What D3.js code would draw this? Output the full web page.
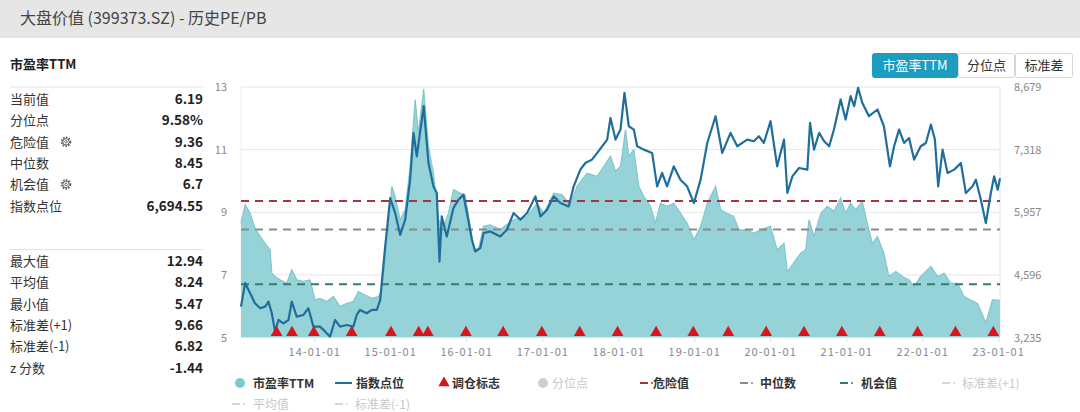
<!DOCTYPE html>
<html><head><meta charset="utf-8">
<script src="https://cdn.jsdelivr.net/npm/d3@7"></script>
<style>
body{margin:0;background:#fff;font-family:"Noto Sans CJK SC","Noto Sans",sans-serif;}
svg text{font-family:"Noto Sans CJK SC","Noto Sans",sans-serif;}
</style></head><body>
<svg id="c" width="1080" height="412"></svg>
<script>
// ---------- DATA ----------
const titleText = "大盘价值 (399373.SZ) - 历史PE/PB";
const peDates = ["2013-01-14","2013-02-03","2013-02-27","2013-03-22","2013-04-16","2013-05-10","2013-06-03","2013-06-11","2013-06-27","2013-07-21","2013-08-22","2013-09-15","2013-10-09","2013-11-10","2013-12-12","2014-01-05","2014-01-29","2014-03-02","2014-04-03","2014-05-05","2014-06-07","2014-07-08","2014-08-01","2014-09-02","2014-10-05","2014-11-06","2014-11-22","2014-12-16","2015-01-09","2015-01-25","2015-02-18","2015-03-14","2015-04-07","2015-05-01","2015-05-17","2015-06-11","2015-07-04","2015-07-28","2015-08-21","2015-09-14","2015-10-08","2015-11-01","2015-12-03","2015-12-27","2016-01-21","2016-02-06","2016-03-01","2016-03-25","2016-04-26","2016-06-13","2016-08-16","2016-10-20","2016-12-07","2017-01-08","2017-02-25","2017-04-06","2017-05-16","2017-06-17","2017-08-04","2017-09-22","2017-10-24","2017-11-25","2017-12-19","2018-01-12","2018-02-05","2018-02-21","2018-03-17","2018-04-10","2018-05-04","2018-06-05","2018-06-29","2018-07-23","2018-08-24","2018-09-25","2018-10-27","2018-11-28","2018-12-31","2019-02-01","2019-03-05","2019-04-14","2019-05-08","2019-06-09","2019-07-10","2019-08-04","2019-09-13","2019-10-15","2019-11-16","2020-01-03","2020-02-04","2020-03-08","2020-03-24","2020-04-25","2020-05-27","2020-06-20","2020-07-06","2020-07-30","2020-09-01","2020-10-02","2020-11-03","2020-12-05","2020-12-29","2021-01-22","2021-02-15","2021-03-19","2021-04-12","2021-05-06","2021-05-31","2021-07-01","2021-07-25","2021-08-27","2021-09-28","2021-10-30","2021-11-23","2021-12-25","2022-02-12","2022-03-16","2022-04-17","2022-05-18","2022-06-19","2022-07-21","2022-08-22","2022-09-24","2022-11-03","2022-12-05","2023-01-10"];
const peValues = [8.65,9.24,8.97,8.49,8.23,8.01,7.80,7.05,6.95,6.84,6.73,7.16,6.84,6.79,6.84,6.20,6.25,6.15,6.31,5.99,6.09,6.15,6.47,6.36,6.25,6.31,6.52,8.01,9.83,9.50,8.76,9.08,10.47,12.60,11.53,12.94,11.10,10.25,8.76,8.55,8.97,9.72,9.61,9.56,8.55,7.80,7.85,8.55,8.60,8.45,8.76,8.87,9.29,8.97,9.61,9.56,9.24,9.83,10.25,10.15,10.47,10.79,10.31,10.47,11.64,10.79,11.00,9.83,9.51,9.19,8.65,9.29,9.19,9.29,8.97,8.65,8.12,8.55,9.29,9.83,9.08,8.97,8.87,8.44,8.44,8.33,8.44,8.55,7.80,8.01,7.10,7.40,7.69,7.80,8.76,8.23,8.97,9.19,9.03,9.45,8.97,9.29,9.08,9.35,8.65,8.01,8.23,7.69,6.95,7.11,6.95,6.84,6.63,6.95,7.27,6.95,7.05,6.73,6.73,6.31,6.20,6.09,5.47,6.20,6.19];

const idxDates = ["2013-01-14","2013-02-03","2013-02-27","2013-03-22","2013-04-16","2013-05-10","2013-05-26","2013-06-11","2013-06-27","2013-07-13","2013-08-06","2013-08-30","2013-09-15","2013-10-09","2013-11-10","2013-12-04","2013-12-28","2014-01-29","2014-02-23","2014-03-18","2014-04-11","2014-05-05","2014-06-07","2014-07-08","2014-07-24","2014-08-09","2014-09-10","2014-10-05","2014-10-29","2014-11-14","2014-12-08","2015-01-01","2015-01-25","2015-02-18","2015-03-14","2015-04-07","2015-04-23","2015-05-09","2015-06-11","2015-07-04","2015-07-28","2015-08-13","2015-08-26","2015-09-06","2015-09-30","2015-11-01","2015-11-25","2015-12-19","2016-01-05","2016-01-29","2016-02-14","2016-03-09","2016-03-25","2016-04-26","2016-06-13","2016-07-15","2016-08-16","2016-09-18","2016-10-20","2016-11-29","2016-12-23","2017-01-24","2017-02-25","2017-03-29","2017-05-08","2017-06-01","2017-07-03","2017-07-27","2017-08-28","2017-09-22","2017-11-09","2017-11-25","2017-12-19","2018-01-12","2018-01-31","2018-02-21","2018-03-17","2018-04-02","2018-05-04","2018-06-13","2018-07-07","2018-07-31","2018-08-24","2018-09-25","2018-10-27","2018-11-28","2018-12-31","2019-02-01","2019-03-05","2019-04-14","2019-05-16","2019-06-25","2019-07-27","2019-09-13","2019-10-15","2019-11-08","2019-12-02","2020-01-03","2020-02-04","2020-03-08","2020-03-24","2020-04-17","2020-05-19","2020-06-28","2020-07-11","2020-07-30","2020-08-24","2020-09-17","2020-10-11","2020-11-03","2020-12-05","2020-12-29","2021-01-22","2021-02-08","2021-02-27","2021-03-19","2021-04-20","2021-05-31","2021-07-01","2021-07-30","2021-08-19","2021-09-12","2021-10-06","2021-10-30","2021-11-23","2021-12-25","2022-01-19","2022-02-12","2022-03-03","2022-03-19","2022-04-09","2022-05-03","2022-06-04","2022-07-06","2022-07-30","2022-08-31","2022-09-16","2022-10-10","2022-11-03","2022-11-27","2022-12-13","2022-12-30","2023-01-10"];
const idxValues = [3906,4415,4198,3980,3870,3906,4016,3761,3362,3616,3543,3616,4016,3689,3725,3870,3471,3471,3362,3253,3616,3471,3507,3471,3725,3834,3761,3834,3834,4053,5213,6265,5939,5467,5794,6665,7681,7173,8262,7028,6520,6375,4886,5867,5431,6048,6229,6338,5939,5358,5104,5177,5503,5540,5431,5576,5939,5794,5939,6302,5867,6012,6302,6157,6084,6520,6883,7028,7101,7246,7536,8008,7536,7754,8553,7826,7754,7391,7318,7246,6520,6810,6520,6955,6665,6520,6157,6665,7463,8044,7246,7681,7391,7536,7500,7609,7463,7935,6955,7536,6375,6738,6919,6883,7899,7318,7681,7500,7391,7754,8408,7972,8480,8262,8661,8335,8044,8190,7826,6955,7391,7754,7463,7572,7101,7391,7463,7863,7536,6520,7318,6810,6883,7028,6375,6520,6665,6229,5721,6375,6738,6447,6695];

const rebalanceDates = ["2013-07-04","2013-09-16","2013-12-30","2014-06-30","2015-01-05","2015-05-18","2015-07-01","2015-12-31","2016-06-27","2016-12-30","2017-06-30","2017-12-29","2018-07-02","2018-12-28","2019-06-14","2019-12-13","2020-06-12","2020-12-11","2021-06-11","2021-12-10","2022-06-10","2022-12-09"];

const peTicks = [5,7,9,11,13];
const idxTicks = [3235,4596,5957,7318,8679];
const xTickDates = ["2014-01-01","2015-01-01","2016-01-01","2017-01-01","2018-01-01","2019-01-01","2020-01-01","2021-01-01","2022-01-01","2023-01-01"];

const dangerValue = 9.36, medianValue = 8.45, chanceValue = 6.7;

const statLabelsTop = ["当前值","分位点","危险值","中位数","机会值","指数点位"];
const statValuesTop = ["6.19","9.58%","9.36","8.45","6.7","6,694.55"];
const statLabelsBottom = ["最大值","平均值","最小值","标准差(+1)","标准差(-1)","z 分数"];
const statValuesBottom = ["12.94","8.24","5.47","9.66","6.82","-1.44"];

const buttonLabels = ["市盈率TTM","分位点","标准差"];

// ---------- DRAW ----------
const svg = d3.select("#c");
const parse = d3.timeParse("%Y-%m-%d");

// header
svg.append("rect").attr("x",0).attr("y",0).attr("width",1080).attr("height",38).attr("fill","#e6e6e6");
svg.append("text").attr("x",20).attr("y",24).attr("font-size",16).attr("fill","#444").text(titleText);

// section title
svg.append("text").attr("x",10).attr("y",69).attr("font-size",13).attr("font-weight","bold").attr("fill","#222").text("市盈率TTM");

// left stats
function statBlock(labels, values, y0, lineY){
  svg.append("line").attr("x1",10).attr("x2",203).attr("y1",lineY).attr("y2",lineY).attr("stroke","#e3e3e3");
  labels.forEach((l,i)=>{
    const y = y0 + i*21.3;
    svg.append("text").attr("x",10).attr("y",y+4.5).attr("font-size",13).attr("fill","#333").text(l);
    svg.append("text").attr("x",203).attr("y",y+4.5).attr("font-size",13.5).attr("font-weight","bold").attr("fill","#222").attr("text-anchor","end").text(values[i]);
  });
}
statBlock(statLabelsTop, statValuesTop, 99.5, 87);
statBlock(statLabelsBottom, statValuesBottom, 261.5, 249.5);
// gear icons
[141.8, 184.4].forEach(y=>{
  const g = svg.append("g").attr("transform",`translate(66,${y})`);
  g.append("circle").attr("r",4.3).attr("fill","none").attr("stroke","#666").attr("stroke-width",2).attr("stroke-dasharray","1.6,1.2");
  g.append("circle").attr("r",3.2).attr("fill","none").attr("stroke","#666").attr("stroke-width",1);
  g.append("circle").attr("r",1.3).attr("fill","none").attr("stroke","#666").attr("stroke-width",0.9);
});

// buttons
const btnX = [872, 958, 1015], btnW = [86, 57, 58];
buttonLabels.forEach((b,i)=>{
  svg.append("rect").attr("x",btnX[i]+0.5).attr("y",53.5).attr("width",btnW[i]-1).attr("height",24).attr("rx",2)
    .attr("fill", i===0 ? "#1c9cc1" : "#fff").attr("stroke", i===0 ? "#1c9cc1" : "#d6d6d6");
  svg.append("text").attr("x",btnX[i]+btnW[i]/2).attr("y",70).attr("text-anchor","middle").attr("font-size",13)
    .attr("fill", i===0 ? "#fff" : "#333").text(b);
});

// chart scales
const L = 241, R = 1000, T = 87, B = 337.5;
const x = d3.scaleTime().domain([parse("2013-01-14"), parse("2023-01-10")]).range([L, R]);
const yL = d3.scaleLinear().domain([5,13]).range([B, T]);
const yR = d3.scaleLinear().domain([3235,8679]).range([B, T]);

// grid
svg.append("g").selectAll("line").data(peTicks.slice(1)).join("line")
  .attr("x1",L).attr("x2",R).attr("y1",d=>yL(d)).attr("y2",d=>yL(d)).attr("stroke","#e6e6e6");
svg.append("line").attr("x1",R).attr("x2",R).attr("y1",T).attr("y2",B).attr("stroke","#e6e6e6");
svg.append("line").attr("x1",L).attr("x2",L).attr("y1",T).attr("y2",B).attr("stroke","#eeeeee");

// area
const peData = peDates.map((d,i)=>({d:parse(d), v:peValues[i]}));
const idxData = idxDates.map((d,i)=>({d:parse(d), v:idxValues[i]}));
svg.append("path").datum(peData)
  .attr("d", d3.area().x(d=>x(d.d)).y0(B).y1(d=>yL(d.v)))
  .attr("fill","#95d3d9");
svg.append("path").datum(peData)
  .attr("d", d3.line().x(d=>x(d.d)).y(d=>yL(d.v)))
  .attr("fill","none").attr("stroke","#82c7cf").attr("stroke-width",1.2);

// reference lines
[[dangerValue,"#a8343f"],[medianValue,"#8a8a8a"],[chanceValue,"#2f7f6a"]].forEach(([v,c])=>{
  svg.append("line").attr("x1",L).attr("x2",R).attr("y1",yL(v)).attr("y2",yL(v))
    .attr("stroke",c).attr("stroke-width",2).attr("stroke-dasharray","8,6");
});

// index line
svg.append("path").datum(idxData)
  .attr("d", d3.line().x(d=>x(d.d)).y(d=>yR(d.v)))
  .attr("fill","none").attr("stroke","#1f6e9c").attr("stroke-width",2.2).attr("stroke-linejoin","round");

// rebalance triangles
svg.append("g").selectAll("path").data(rebalanceDates).join("path")
  .attr("transform",d=>`translate(${x(parse(d))},${B-5})`)
  .attr("d", d3.symbol().type(d3.symbolTriangle).size(60))
  .attr("fill","#d8141c");

// axes labels
const axL = d3.axisLeft(yL).tickValues(peTicks).tickSize(0).tickPadding(0);
const gL = svg.append("g").attr("transform",`translate(227,0)`).call(axL);
gL.select(".domain").remove();
gL.selectAll("text").attr("fill","#888").attr("font-size",11).attr("font-family",'"Noto Sans CJK SC",sans-serif');

const axR = d3.axisRight(yR).tickValues(idxTicks).tickFormat(d3.format(",")).tickSize(0).tickPadding(0);
const gR = svg.append("g").attr("transform",`translate(1014,0)`).call(axR);
gR.select(".domain").remove();
gR.selectAll("text").attr("fill","#888").attr("font-size",11).attr("font-family",'"Noto Sans CJK SC",sans-serif');

const axB = d3.axisBottom(x).tickValues(xTickDates.map(parse)).tickFormat(d3.timeFormat("%y-%m-%d")).tickSize(4).tickPadding(7);
const gB = svg.append("g").attr("transform",`translate(0,${B})`).call(axB);
gB.select(".domain").remove();
gB.selectAll("line").attr("stroke","#ddd");
gB.selectAll("text").attr("fill","#888").attr("font-size",11).attr("letter-spacing","1px").attr("font-family",'"Noto Sans CJK SC",sans-serif');

// legend
const legend = svg.append("g");
const ly1 = 383, ly2 = 404;
function ltext(xp,y,t,col,bold){
  legend.append("text").attr("x",xp).attr("y",y+4.5).attr("font-size",12).attr("fill",col)
    .attr("font-weight",bold?"bold":"normal").text(t);
}
legend.append("circle").attr("cx",240).attr("cy",ly1).attr("r",5).attr("fill","#7fcad1");
ltext(253,ly1,"市盈率TTM","#333",true);
legend.append("line").attr("x1",335).attr("x2",352).attr("y1",ly1).attr("y2",ly1).attr("stroke","#1f6e9c").attr("stroke-width",2);
ltext(356,ly1,"指数点位","#333",true);
legend.append("path").attr("transform",`translate(444,${ly1})`).attr("d",d3.symbol().type(d3.symbolTriangle).size(55)).attr("fill","#d8141c");
ltext(452,ly1,"调仓标志","#333",true);
legend.append("circle").attr("cx",543).attr("cy",ly1).attr("r",5).attr("fill","#cfcfcf");
ltext(552,ly1,"分位点","#c8c8c8",false);
function dashIcon(xp,y,col){
  legend.append("line").attr("x1",xp).attr("x2",xp+8).attr("y1",y).attr("y2",y).attr("stroke",col).attr("stroke-width",2);
  legend.append("circle").attr("cx",xp+12).attr("cy",y).attr("r",1).attr("fill",col);
}
dashIcon(640,ly1,"#a8343f"); ltext(653,ly1,"危险值","#333",true);
dashIcon(740,ly1,"#8a8a8a"); ltext(760,ly1,"中位数","#333",true);
dashIcon(840,ly1,"#2f7f6a"); ltext(861,ly1,"机会值","#333",true);
dashIcon(942,ly1,"#d6d6d6"); ltext(962,ly1,"标准差(+1)","#c8c8c8",false);
dashIcon(232,ly2,"#d6d6d6"); ltext(253,ly2,"平均值","#c8c8c8",false);
dashIcon(335,ly2,"#d6d6d6"); ltext(355,ly2,"标准差(-1)","#c8c8c8",false);
</script>
</body></html>
